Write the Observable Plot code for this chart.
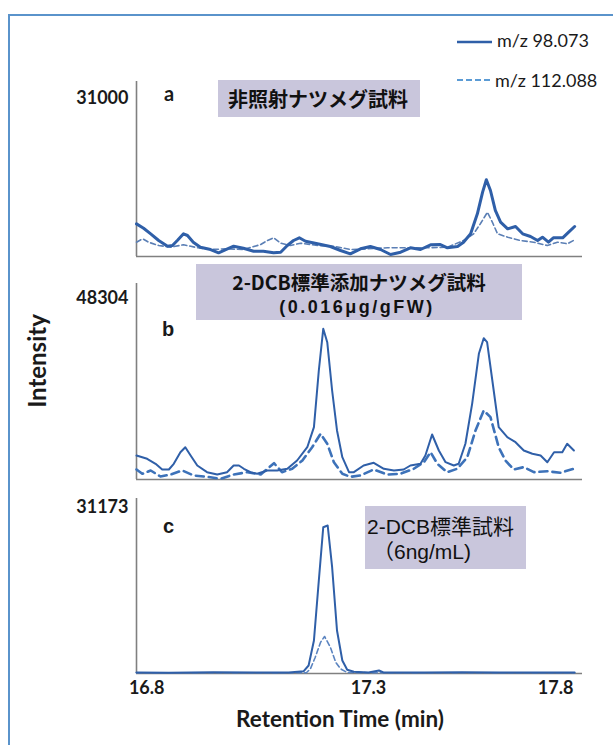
<!DOCTYPE html>
<html>
<head>
<meta charset="utf-8">
<script src="https://cdn.jsdelivr.net/npm/d3@7"></script>
<script src="https://cdn.jsdelivr.net/npm/@observablehq/plot@0.6"></script>
<style>
  html, body { margin: 0; padding: 0; background: #ffffff; }
  body { width: 613px; height: 745px; overflow: hidden; position: relative; font-family: Lato, "Noto Sans", sans-serif; }
  #frame { position: absolute; left: 8px; top: 14px; width: 700px; height: 800px; border: 2px solid #5a93cb; box-sizing: border-box; }
  .panel { position: absolute; left: 0; }
  .ov { position: absolute; color: #1a1a1a; white-space: nowrap; }
  .box { position: absolute; background: #c9c6dc; font-family: "Noto Sans CJK JP", sans-serif; color: #111; }
  .ln { position: absolute; white-space: nowrap; }
</style>
</head>
<body>
<div id="frame"></div>
<div id="root"></div>
<script>
// ---- x scale (retention time, min) and tick labels ----
const xDomain = [16.777, 17.3, 17.872];
const xTicks = [16.8, 17.3, 17.8];

// ---- series names ----
const seriesNames = ["m/z 98.073", "m/z 112.088"];

// ---- panel a : 非照射ナツメグ試料 ----
const aSolidTime = [16.777,16.793,16.809,16.827,16.847,16.858,16.869,16.883,16.892,16.905,16.921,16.944,16.962,16.982,16.996,17.018,17.041,17.063,17.086,17.102,17.117,17.131,17.144,17.158,17.185,17.214,17.237,17.259,17.282,17.305,17.332,17.359,17.386,17.412,17.439,17.466,17.492,17.511,17.538,17.554,17.573,17.591,17.605,17.615,17.626,17.639,17.653,17.672,17.693,17.712,17.733,17.752,17.765,17.781,17.794,17.819,17.835,17.851];
const aSolidValue = [6400,5550,4450,3140,2020,2160,3140,4450,4120,2810,1820,1370,730,1510,2020,1630,1040,1040,730,840,2160,3140,3670,3000,2490,1960,1180,530,1510,1960,1370,390,840,1710,1370,2300,2350,1710,1960,2810,4450,8380,12620,15050,12950,9030,6730,5430,5890,4450,3920,3140,3790,2810,3670,3670,4770,5890];
const aDashTime = [16.777,16.791,16.804,16.827,16.854,16.883,16.915,16.944,16.982,17.018,17.057,17.072,17.086,17.102,17.124,17.147,17.185,17.221,17.259,17.298,17.351,17.404,17.458,17.511,17.554,17.581,17.599,17.618,17.631,17.645,17.672,17.706,17.741,17.778,17.805,17.832,17.848];
const aDashValue = [2810,3470,2810,2160,1820,2300,1710,1370,1510,1370,2350,3140,3670,2610,2160,2610,2160,2020,1370,1510,1710,1710,1710,1820,3140,4450,6420,8690,6730,4450,3790,3140,2810,2160,2810,2490,3140];
const aMax = 31000;

// ---- panel b : 2-DCB標準添加ナツメグ試料 ----
const bSolidTime = [16.777,16.801,16.820,16.835,16.850,16.861,16.876,16.887,16.899,16.914,16.936,16.959,16.981,16.996,17.008,17.019,17.034,17.049,17.072,17.094,17.117,17.139,17.162,17.177,17.188,17.198,17.207,17.218,17.229,17.241,17.256,17.267,17.289,17.314,17.341,17.368,17.394,17.412,17.439,17.452,17.470,17.488,17.506,17.528,17.541,17.559,17.577,17.595,17.608,17.617,17.631,17.648,17.671,17.693,17.715,17.738,17.760,17.778,17.796,17.818,17.831,17.849];
const bSolidValue = [6400,5520,4190,2670,2670,4190,7290,8620,6400,3740,1950,1330,1950,3740,3740,2860,1950,1520,2400,2400,2860,5070,8620,13960,29090,40220,36650,23750,13080,5950,1950,1950,3740,4460,2860,2400,2670,3740,4190,6400,12010,7740,4620,3740,4190,9530,20200,33550,37710,36650,26420,13960,11290,9960,7740,6860,6400,4620,7290,7290,9530,7740];
const bDashTime = [16.777,16.790,16.809,16.831,16.854,16.880,16.906,16.936,16.966,16.996,17.027,17.057,17.087,17.105,17.128,17.151,17.173,17.192,17.207,17.222,17.241,17.259,17.282,17.314,17.350,17.385,17.421,17.448,17.466,17.484,17.510,17.537,17.564,17.586,17.608,17.626,17.648,17.666,17.688,17.715,17.742,17.778,17.813,17.849];
const bDashValue = [2670,1520,2400,800,1330,2400,1070,720,190,1330,1950,1330,4350,1950,2860,5070,8620,12200,9530,4620,1520,720,1070,2670,1330,1520,2860,4620,7290,4190,1950,2860,5950,13080,18420,16630,8620,5070,2670,3300,1950,2200,1800,2860];
const bMax = 48304;

// ---- panel c : 2-DCB標準試料 ----
const cSolidTime = [16.777,16.85,16.95,17.05,17.12,17.154,17.165,17.177,17.188,17.198,17.208,17.218,17.229,17.241,17.252,17.267,17.30,17.328,17.34,17.45,17.55,17.65,17.75,17.851];
const cSolidValue = [200,150,220,170,200,430,1500,6200,17470,27470,27790,19960,8080,2440,690,320,200,560,200,180,230,200,170,180];
const cDashTime = [16.777,17.15,17.160,17.169,17.180,17.192,17.201,17.214,17.226,17.237,17.252,17.30,17.851];
const cDashValue = [150,150,150,880,3060,5880,6950,4940,2120,880,190,150,150];
const cMax = 31173;

const rows = (ts, vs) => ts.map((t, i) => ({t, v: vs[i]}));

function panel({solid, dash, tick, yTop, mt, fh, mb, showX, solidW, dashW, dashColor, dashArray}) {
  const marks = [
    Plot.ruleX([xDomain[0]], {stroke: "#808080", strokeWidth: 1.6}),
    Plot.ruleY([0], {stroke: "#808080", strokeWidth: 1.6}),
    Plot.line(dash, {x: "t", y: "v", stroke: dashColor, strokeWidth: dashW, strokeDasharray: dashArray}),
    Plot.line(solid, {x: "t", y: "v", stroke: "#2f5fa8", strokeWidth: solidW}),
    Plot.axisY({ticks: [tick], tickSize: 0, tickPadding: 8, tickFormat: d => String(d), label: null, fontSize: 18, fontWeight: "bold"})
  ];
  if (showX) marks.push(Plot.axisX({ticks: xTicks, tickSize: 0, tickPadding: 8, tickFormat: d => d.toFixed(1), label: null, fontSize: 18, fontWeight: "bold"}));
  return Plot.plot({
    width: 613,
    height: mt + fh + mb,
    marginTop: mt, marginBottom: mb, marginLeft: 136, marginRight: 31,
    style: {background: "transparent", color: "#1a1a1a", fontFamily: "Lato, sans-serif", fontWeight: "bold", fontSize: "18px", overflow: "visible"},
    x: {type: "linear", domain: xDomain, range: [136, 368, 582], axis: showX ? undefined : null},
    y: {domain: [0, yTop]},
    marks
  });
}

const root = document.getElementById("root");
function place(svg, top) { svg.classList.add("panel"); svg.style.top = top + "px"; svg.style.position = "absolute"; root.appendChild(svg); }

place(panel({solid: rows(aSolidTime, aSolidValue), dash: rows(aDashTime, aDashValue), tick: aMax, yTop: aMax * 175 / 158, mt: 11, fh: 175, mb: 5, showX: false, solidW: 3, dashW: 1.6, dashColor: "#5b7fb5", dashArray: "5,3"}), 70);
place(panel({solid: rows(bSolidTime, bSolidValue), dash: rows(bDashTime, bDashValue), tick: bMax, yTop: bMax * 196 / 181, mt: 13, fh: 196, mb: 4, showX: false, solidW: 2, dashW: 2.6, dashColor: "#3d72b9", dashArray: "8,5"}), 270);
place(panel({solid: rows(cSolidTime, cSolidValue), dash: rows(cDashTime, cDashValue), tick: cMax, yTop: cMax * 175 / 166, mt: 8, fh: 175, mb: 32, showX: true, solidW: 2, dashW: 1.6, dashColor: "#5b84c0", dashArray: "5,3"}), 490);
</script>

<!-- legend -->
<svg class="ov" style="left:456px; top:30px;" width="40" height="60">
  <line x1="1" y1="12" x2="36" y2="12" stroke="#2f5fa8" stroke-width="2.6"/>
  <line x1="1" y1="50" x2="36" y2="50" stroke="#5b9bd5" stroke-width="2" stroke-dasharray="6,3"/>
</svg>
<div class="ov" style="left:497px; top:28px; font-size:18px; line-height:24px;">m/z 98.073</div>
<div class="ov" style="left:495px; top:68px; font-size:18px; line-height:24px;">m/z 112.088</div>

<!-- axis titles -->
<div class="ov" style="left:36px; top:361px; transform: translate(-50%,-50%) rotate(-90deg); font-size:24px; font-weight:bold;">Intensity</div>
<div class="ov" style="left:340px; top:718px; transform: translate(-50%,-50%); font-size:22.5px; font-weight:bold;">Retention Time (min)</div>

<!-- panel letters -->
<div class="ov" style="left:164px; top:81px; font-size:20px; font-weight:bold; line-height:24px;">a</div>
<div class="ov" style="left:162px; top:317px; font-size:20px; font-weight:bold; line-height:24px; font-family:'Liberation Sans',Arial,sans-serif;">b</div>
<div class="ov" style="left:163px; top:514px; font-size:20px; font-weight:bold; line-height:24px; font-family:'Liberation Sans',Arial,sans-serif;">c</div>

<!-- annotation boxes -->
<div class="box" style="left:218px; top:80px; width:202px; height:37px; font-size:20px; font-weight:bold; line-height:37px; padding-left:10px; box-sizing:border-box;">非照射ナツメグ試料</div>
<div class="box" style="left:196px; top:264px; width:326px; height:56px; font-weight:bold;">
  <div class="ln" style="left:0; width:326px; text-align:center; top:6px; font-size:19.5px; line-height:24px;">2-DCB標準添加ナツメグ試料</div>
  <div class="ln" style="left:0; width:322px; text-align:center; top:33px; font-size:18px; line-height:20px; letter-spacing:2.5px; font-family:'Liberation Sans',Arial,sans-serif;">(0.016μg/gFW)</div>
</div>
<div class="box" style="left:365px; top:506px; width:161px; height:63px;">
  <div class="ln" style="left:2px; top:9px; font-size:21px; line-height:24px; font-family:'Liberation Sans','Noto Sans CJK JP',sans-serif;">2-DCB標準試料</div>
  <div class="ln" style="left:8px; top:35px; font-size:21px; line-height:22px; font-family:'Liberation Sans','Noto Sans CJK JP',sans-serif;">（6ng/mL)</div>
</div>
</body>
</html>
